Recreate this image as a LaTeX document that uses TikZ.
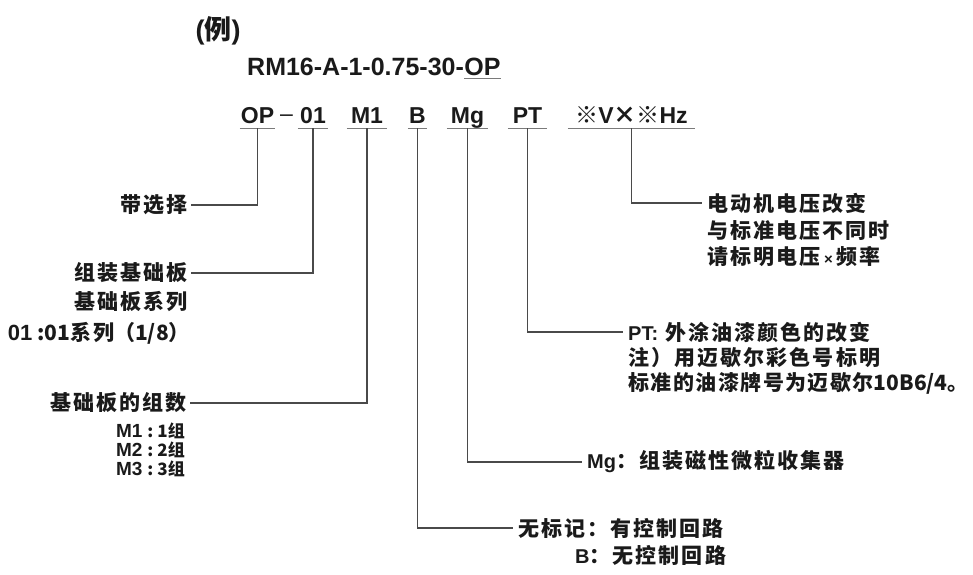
\documentclass[tikz,border=0pt]{standalone}
\usepackage{fontspec}
\setmainfont{Liberation Sans}
\newfontfamily\cjk[LetterSpace=10]{Noto Sans CJK SC}
\newfontfamily\cjkt[LetterSpace=7]{Noto Sans CJK SC}
\newfontfamily\cjkn{Noto Sans CJK SC}
\newfontfamily\lat{Liberation Sans}
\newcommand\latb[1]{{\lat\bfseries\fontsize{20}{24}\selectfont #1}}
\newcommand\latbb[1]{{\lat\bfseries\fontsize{22}{24}\selectfont #1}}
\newcommand\latm[1]{{\lat\bfseries\fontsize{19}{19}\selectfont #1}}
\newcommand\dig[1]{{\cjkn\bfseries #1}}
\definecolor{ink}{HTML}{1A1A1A}
\definecolor{linec}{HTML}{4A4A4A}
\definecolor{ulc}{HTML}{7A7A7A}
\begin{document}
\begin{tikzpicture}[x=1pt,y=-1pt,
  txt/.style={inner xsep=3pt, inner ysep=0pt, text=ink, font=\cjk\bfseries\fontsize{21}{24}\selectfont},
  rtxt/.style={txt, inner xsep=5pt, anchor=west},
  ltxt/.style={txt, anchor=east},
  mtxt/.style={inner xsep=3pt, inner ysep=0pt, text=ink, anchor=east, font=\cjkn\bfseries\fontsize{17}{18}\selectfont},
  code/.style={inner xsep=0pt, inner ysep=5pt, text depth=0pt, anchor=base, text=ink, font=\bfseries\fontsize{23}{26}\selectfont},
  conn/.style={draw=linec, line width=1.2pt},
  uline/.style={draw=ulc, line width=1.3pt}]
\fill[white] (0,0) rectangle (973,574);
\useasboundingbox (0,0) rectangle (973,574);

% title
\node[inner sep=0pt, text=ink, font=\bfseries\fontsize{27}{29}\selectfont] (ex) at (218,31) {({\cjkn 例})};
\node[anchor=base west, inner sep=0pt, text=ink, font=\bfseries\fontsize{25}{28}\selectfont] (rm) at (247,75) {RM16-A-1-0.75-30-};
\node[anchor=base west, inner xsep=0pt, inner ysep=3pt, text depth=0pt, text=ink, font=\bfseries\fontsize{25}{28}\selectfont] (rmop) at (rm.base east) {OP};
\draw[uline] (rmop.south west) -- (rmop.south east);

% code row
\node[code, minimum width=35pt] (op) at (257.5,123) {OP};
\node[anchor=base, inner sep=0pt, text=ink, font=\fontsize{23}{26}\selectfont] (hy) at (286.5,121) {–};
\node[code, minimum width=30pt] (n01) at (313,123) {01};
\node[code, minimum width=40pt] (m1) at (367,123) {M1};
\node[code, minimum width=19pt] (b) at (417.5,123) {B};
\node[code, minimum width=41pt] (mg) at (467.5,123) {Mg};
\node[code, minimum width=39pt] (pt) at (527.5,123) {PT};
\node[code, minimum width=127pt] (vhz) at (631.5,123) {{\cjkn ※}V{\cjkn ×}{\cjkn ※}Hz};
\foreach \n in {op,n01,m1,b,mg,pt,vhz} \draw[uline] (\n.south west) -- (\n.south east);

% left texts
\node[ltxt] (t1) at (191,205) {带选择};
\node[ltxt] (t2) at (191,273) {组装基础板};
\node[ltxt] (t3) at (191,302) {基础板系列};
\node[ltxt] (t4) at (193,333) {\latbb{01}\dig{ :01}系列\dig{（1/8）}};
\node[ltxt] (t5) at (190,403) {基础板的组数};
\node[mtxt] (m1t) at (188,431) {\latm{M1}\hspace{5pt}:\hspace{4pt}1组};
\node[mtxt] (m2t) at (188,450) {\latm{M2}\hspace{5pt}:\hspace{4pt}2组};
\node[mtxt] (m3t) at (188,469) {\latm{M3}\hspace{5pt}:\hspace{4pt}3组};

% right texts
\node[rtxt] (v1) at (702,203) {电动机电压改变};
\node[rtxt] (v2) at (702,231) {与标准电压不同时};
\node[rtxt] (v3) at (702,257) {请标明电压\,{\lat\bfseries\fontsize{15}{15}\selectfont ×}\,频率};
\node[rtxt] (p1) at (623,332) {\latb{PT:} 外涂油漆颜色的改变};
\node[rtxt] (p2) at (623,357) {注）用迈歇尔彩色号标明};
\node[rtxt, font=\cjkt\bfseries\fontsize{21}{24}\selectfont] (p3) at (623,383) {标准的油漆牌号为迈歇尔\dig{10B6/4}{\cjkn 。}};
\node[rtxt] (g1) at (582,462) {\latb{Mg}：组装磁性微粒收集器};
\node[rtxt] (b1) at (513,528) {无标记：有控制回路};
\coordinate (yb2) at (0,555);
\node[txt, anchor=east] (b2) at (b1.east |- yb2) {\latb{B}：无控制回路};

% connectors
\draw[conn] (op.south) |- (t1.east);
\draw[conn] (n01.south) |- (t2.east);
\draw[conn] (m1.south) |- (t5.east);
\draw[conn] (b.south) |- (b1.west);
\draw[conn] (mg.south) |- (g1.west);
\draw[conn] (pt.south) |- (p1.west);
\draw[conn] (vhz.south) |- (v1.west);
\end{tikzpicture}
\end{document}
